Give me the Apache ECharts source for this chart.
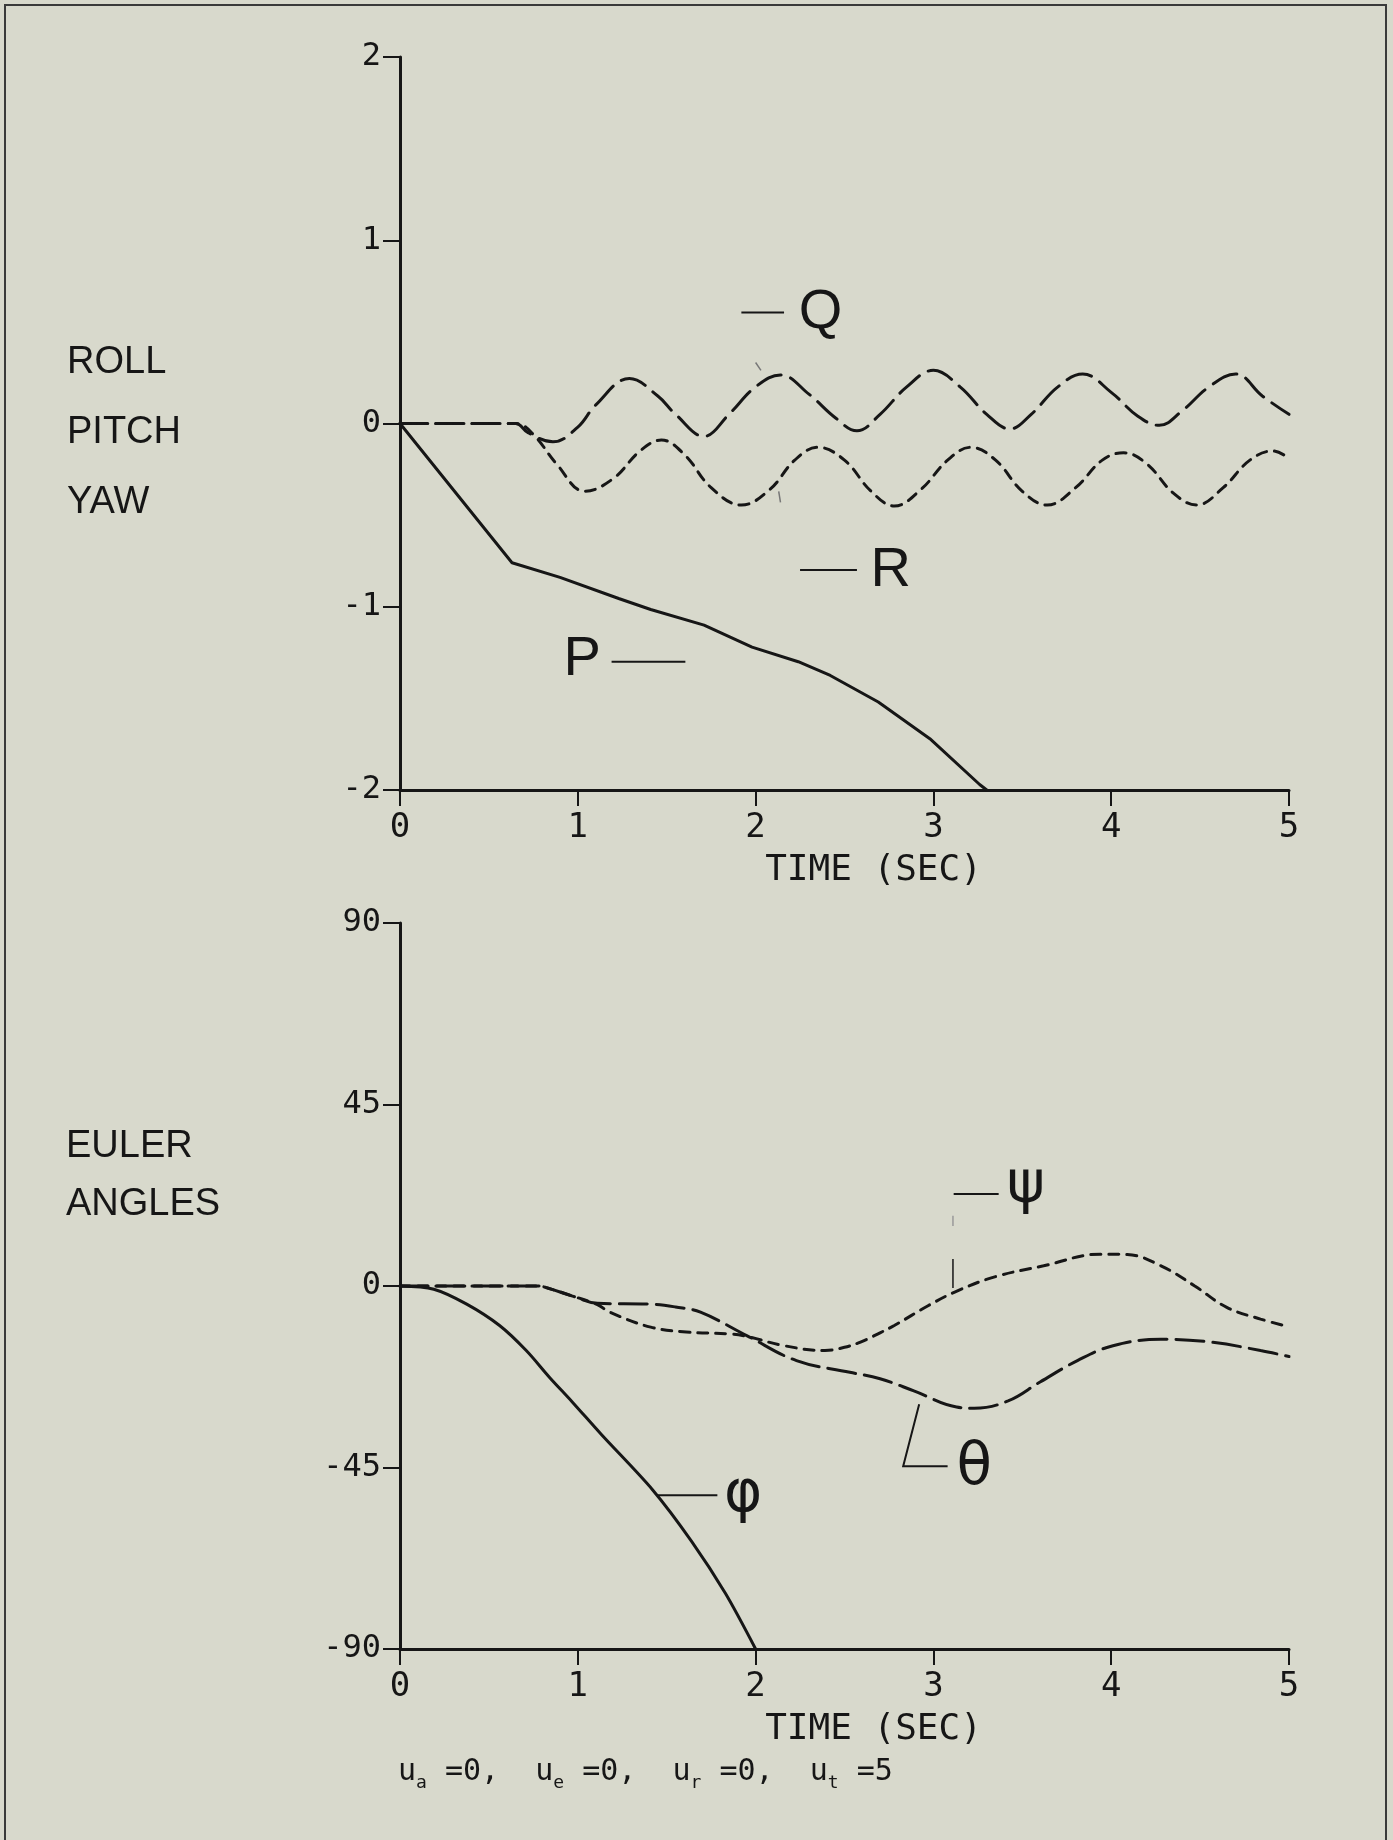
<!DOCTYPE html>
<html>
<head>
<meta charset="utf-8">
<script src="https://cdn.jsdelivr.net/npm/echarts@6.0.0/dist/echarts.min.js"></script>
<style>
html, body { margin: 0; padding: 0; background: #d8d9cc; }
#chart { width: 1393px; height: 1840px; }
</style>
</head>
<body>
<div id="chart"></div>
<script>
// axis ticks
const timeTicks = [0, 1, 2, 3, 4, 5]
const rateTicks = [-2, -1, 0, 1, 2]
const angleTicks = [-90, -45, 0, 45, 90]

// body rates (top panel): [time s, value]
const rateP = [[0, 0], [0.63, -0.76], [0.9, -0.84], [1.23, -0.955], [1.41, -1.015], [1.71, -1.10],
  [1.98, -1.22], [2.24, -1.30], [2.42, -1.375], [2.69, -1.52], [2.98, -1.72], [3.26, -1.97], [3.3, -2.0]]
const rateQ = [[0, 0], [0.65, 0], [0.72, -0.05], [0.86, -0.10], [1.0, -0.02], [1.1, 0.1], [1.29, 0.245],
  [1.45, 0.15], [1.55, 0.05], [1.71, -0.07], [1.85, 0.05], [2.0, 0.2], [2.14, 0.265], [2.3, 0.16],
  [2.45, 0.03], [2.57, -0.04], [2.7, 0.05], [2.85, 0.2], [3.0, 0.29], [3.15, 0.2], [3.3, 0.05],
  [3.43, -0.03], [3.55, 0.05], [3.7, 0.2], [3.84, 0.27], [4.0, 0.17], [4.15, 0.04], [4.27, -0.01],
  [4.4, 0.07], [4.55, 0.2], [4.7, 0.27], [4.85, 0.15], [5.0, 0.05]]
const rateR = [[0, 0], [0.65, 0], [0.75, -0.06], [0.88, -0.22], [1.04, -0.37], [1.2, -0.3], [1.35, -0.15],
  [1.47, -0.09], [1.6, -0.17], [1.75, -0.35], [1.92, -0.445], [2.08, -0.36], [2.22, -0.2], [2.35, -0.13],
  [2.5, -0.2], [2.65, -0.37], [2.78, -0.45], [2.93, -0.36], [3.08, -0.2], [3.21, -0.13], [3.35, -0.2],
  [3.5, -0.37], [3.64, -0.445], [3.8, -0.35], [3.95, -0.2], [4.07, -0.16], [4.2, -0.22], [4.35, -0.38],
  [4.48, -0.445], [4.63, -0.35], [4.78, -0.2], [4.91, -0.15], [5.0, -0.19]]

// euler angles (bottom panel), degrees
const anglePhi = [[0, 0], [0.19, -0.8], [0.375, -4.5], [0.56, -9.8], [0.71, -16], [0.84, -22.6],
  [0.97, -28.8], [1.13, -36.7], [1.42, -50.5], [1.64, -63.3], [1.83, -76.2], [2.0, -90]]
const angleTheta = [[0, 0], [0.78, 0], [0.83, -0.5], [0.97, -2.5], [1.11, -4.3], [1.41, -4.5],
  [1.55, -5.2], [1.69, -6.5], [1.95, -12.3], [2.23, -18.5], [2.53, -21.4], [2.7, -23], [2.89, -26],
  [3.13, -30], [3.23, -30.3], [3.42, -28.5], [3.6, -23.8], [3.81, -18.5], [4.01, -14.8], [4.28, -13.2],
  [4.56, -13.9], [4.84, -16], [5.0, -17.5]]
const anglePsi = [[0, 0], [0.78, 0], [0.83, -0.5], [0.97, -2.5], [1.11, -4.6], [1.18, -6.5],
  [1.41, -10.2], [1.61, -11.4], [1.86, -11.9], [1.96, -12.6], [2.16, -14.8], [2.39, -16], [2.5, -15.2],
  [2.59, -13.9], [2.7, -11.6], [2.78, -9.8], [2.97, -4.9], [3.12, -1.5], [3.34, 2.2], [3.62, 5.0],
  [3.94, 7.9], [4.09, 7.8], [4.28, 5], [4.47, 0], [4.65, -5.3], [4.84, -8.2], [5.0, -10.1]]

const ink = '#161616'
const monoFont = "'DejaVu Sans Mono', 'Liberation Mono', monospace"

const chart = echarts.init(document.getElementById('chart'), null, { renderer: 'canvas' })

const xAxisFor = (gridIndex) => ({
  type: 'value',
  gridIndex,
  min: timeTicks[0],
  max: timeTicks[timeTicks.length - 1],
  interval: 1,
  name: 'TIME (SEC)',
  nameLocation: 'middle',
  nameGap: 63,
  nameTextStyle: { color: ink, fontFamily: monoFont, fontSize: 36, padding: [0, 0, 0, 58] },
  axisLine: { onZero: false, lineStyle: { color: ink, width: 3 } },
  axisTick: { inside: false, length: 16, lineStyle: { color: ink, width: 2 } },
  axisLabel: { color: ink, fontFamily: monoFont, fontSize: 34, margin: 21 },
  splitLine: { show: false }
})

const yAxisFor = (gridIndex, ticks) => ({
  type: 'value',
  gridIndex,
  min: ticks[0],
  max: ticks[ticks.length - 1],
  interval: ticks[1] - ticks[0],
  axisLine: { onZero: false, lineStyle: { color: ink, width: 3 } },
  axisTick: { inside: false, length: 17, lineStyle: { color: ink, width: 2 } },
  axisLabel: { color: ink, fontFamily: monoFont, fontSize: 32, margin: 19 },
  splitLine: { show: false }
})

const curve = (name, data, xi, dash, smooth) => ({
  name,
  type: 'line',
  xAxisIndex: xi,
  yAxisIndex: xi,
  data,
  smooth,
  symbol: 'none',
  clip: true,
  lineStyle: { color: ink, width: 3, type: dash, cap: 'round' }
})

const option = {
  backgroundColor: '#d8d9cc',
  animation: false,
  grid: [
    { left: 400, right: 104, top: 57, height: 733 },
    { left: 400, right: 104, top: 923, height: 726 }
  ],
  xAxis: [xAxisFor(0), xAxisFor(1)],
  yAxis: [yAxisFor(0, rateTicks), yAxisFor(1, angleTicks)],
  series: [
    curve('P', rateP, 0, 'solid', false),
    curve('Q', rateQ, 0, [26, 10], 0.4),
    curve('R', rateR, 0, [10, 8], 0.4),
    curve('phi', anglePhi, 1, 'solid', 0.3),
    curve('theta', angleTheta, 1, [28, 9], 0.4),
    curve('psi', anglePsi, 1, [10, 8], 0.4)
  ]
}

chart.setOption(option)

// annotations placed in data units, converted with the chart's own scales
const px = (g, p) => chart.convertToPixel({ gridIndex: g }, p)
const segment = (g, pts, w, color) => ({
  type: 'polyline',
  shape: { points: pts.map(p => px(g, p)) },
  style: { stroke: color || ink, lineWidth: w || 2, fill: null }
})
const glyph = (g, p, text, size, family) => {
  const [x, y] = px(g, p)
  return {
    type: 'text',
    x, y,
    style: {
      text, fill: ink, fontSize: size,
      fontFamily: family || "'Liberation Sans', Arial, sans-serif",
      align: 'center', verticalAlign: 'middle'
    }
  }
}
const greek = "'DejaVu Sans', sans-serif"
const sideText = (text, x, y) => ({
  type: 'text', x, y,
  style: { text, fill: ink, fontSize: 38, fontFamily: "'Liberation Sans', Arial, sans-serif", verticalAlign: 'middle' }
})

chart.setOption({
  graphic: [
    { type: 'rect', shape: { x: 5, y: 5, width: 1381, height: 1900 }, style: { fill: null, stroke: '#3a3a3a', lineWidth: 2 } },
    sideText('ROLL', 67, 363),
    sideText('PITCH', 67, 433),
    sideText('YAW', 67, 503),
    sideText('EULER', 66, 1147),
    sideText('ANGLES', 66, 1205),
    // top panel labels
    segment(0, [[1.92, 0.606], [2.16, 0.606]]),
    glyph(0, [2.365, 0.606], 'Q', 56),
    segment(0, [[2.0, 0.333], [2.03, 0.29]], 1.5, '#777'),
    segment(0, [[2.25, -0.8], [2.57, -0.8]]),
    glyph(0, [2.76, -0.8], 'R', 56),
    segment(0, [[2.13, -0.37], [2.14, -0.43]], 1.5, '#777'),
    glyph(0, [1.025, -1.29], 'P', 56),
    segment(0, [[1.19, -1.3], [1.605, -1.3]]),
    // bottom panel labels
    segment(1, [[3.114, 22.8], [3.367, 22.8]]),
    glyph(1, [3.52, 24.6], 'ψ', 58, greek),
    segment(1, [[3.11, 6.7], [3.11, -0.5]], 1.5),
    segment(1, [[3.11, 17.4], [3.11, 14.9]], 1.5, '#999'),
    segment(1, [[2.92, -29.3], [2.83, -44.7], [3.08, -44.7]], 2),
    glyph(1, [3.23, -45.4], 'θ', 58, greek),
    segment(1, [[1.45, -51.9], [1.785, -51.9]]),
    glyph(1, [1.93, -52.1], 'φ', 58, greek),
    {
      type: 'text', x: 398, y: 1772,
      style: {
        text: 'u{s|a} =0,  u{s|e} =0,  u{s|r} =0,  u{s|t} =5',
        fill: ink, fontSize: 30, fontFamily: monoFont, verticalAlign: 'middle',
        rich: { s: { fontSize: 18, fontFamily: monoFont, fill: ink, padding: [22, 0, 0, 0] } }
      }
    }
  ]
})
</script>
</body>
</html>
